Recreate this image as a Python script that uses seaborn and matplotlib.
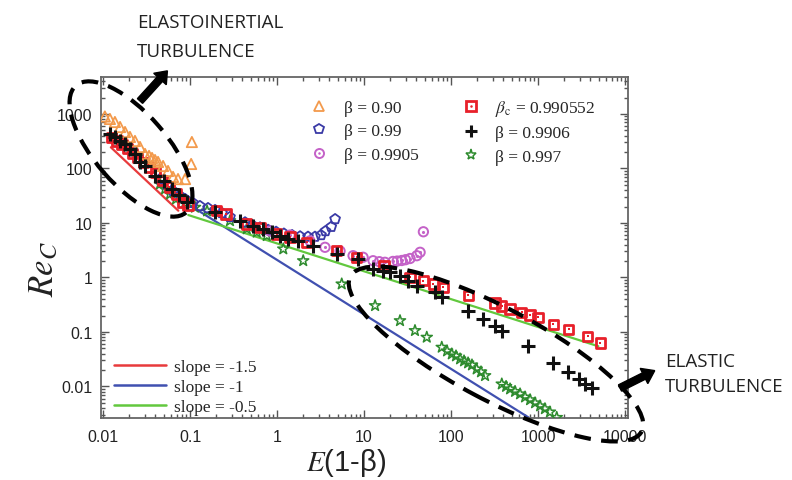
import matplotlib
matplotlib.use("Agg")
import matplotlib.pyplot as plt
import matplotlib.transforms as mtransforms
from matplotlib.patches import Ellipse, FancyArrow
from matplotlib.lines import Line2D
from matplotlib.ticker import LogLocator, FixedLocator, FuncFormatter, NullFormatter
import seaborn as sns
import pandas as pd

# ---------------- data ----------------
b090_x = [0.0105, 0.0120, 0.0137, 0.0157, 0.0179, 0.0204, 0.0233, 0.0266, 0.0304, 0.0338, 0.0366,
          0.0396, 0.0429, 0.049, 0.0559, 0.0638, 0.0728, 0.0877, 0.105, 0.103]
b090_y = [900, 810, 713, 577, 467, 379, 320, 248, 185, 170, 156, 143, 132, 111, 90, 70, 64, 64, 306, 121]

b099_x = [0.0452, 0.0544, 0.0638, 0.0768, 0.0877, 0.108, 0.130, 0.161, 0.194, 0.233, 0.288, 0.429,
          0.516, 0.638, 0.789, 0.975, 1.20, 1.49, 1.84, 2.27, 2.73, 3.2, 3.6, 4.2, 4.65]
b099_y = [64, 50, 38.6, 31.3, 27.5, 23.3, 20.5, 18.8, 17.3, 15.2, 12.9, 10.3, 9.2, 8.3, 7.5, 6.9,
          6.4, 6.0, 5.7, 5.6, 5.6, 6.0, 7.1, 8.5, 11.8]

b09905_x = [0.83, 1.41, 2.39, 3.56, 5.3, 7.48, 9.75, 12.7, 15, 17.4, 21.5, 24, 27.1, 30, 33.8,
            40.4, 44.1, 48.1]
b09905_y = [7.1, 6.0, 4.7, 3.58, 3.06, 2.51, 2.35, 2.03, 1.95, 1.90, 1.97, 2.0, 2.05, 2.12, 2.23,
            2.51, 2.90, 6.9]

bc_x = [0.0125, 0.0145, 0.0165, 0.019, 0.022, 0.025, 0.029, 0.034, 0.04, 0.048, 0.058, 0.07, 0.083,
        0.095, 0.203, 0.26, 0.449, 0.638, 0.99, 1.41, 2.19, 4.85, 8.24, 17, 33.8, 48.1, 62.7, 81.7,
        158, 320, 383, 477, 650, 810, 1000, 1500, 2250, 3710, 5200]
bc_y = [370, 320, 275, 230, 190, 160, 130, 105, 85, 60, 46, 34, 24, 21.4, 16.8, 14.6, 9.6, 8.3,
        6.3, 5.5, 4.43, 3.11, 2.35, 1.66, 1.01, 0.874, 0.760, 0.661, 0.468, 0.340, 0.300, 0.264,
        0.230, 0.205, 0.185, 0.138, 0.112, 0.0834, 0.0628]

b09906_x = [0.0120, 0.0137, 0.0157, 0.0179, 0.0204, 0.0233, 0.0266, 0.0304, 0.0396, 0.05, 0.062,
            0.075, 0.0916, 0.194, 0.376, 0.535, 0.697, 0.869, 1.08, 1.35, 1.76, 2.61, 4.9, 8.6,
            12.8, 16.7, 19.9, 25.9, 32.3, 40.4, 65.5, 78.2, 157, 235, 320, 383, 774, 1500, 2230,
            2960, 3470, 4140]
b09906_y = [430, 373, 324, 282, 228, 185, 130, 112, 74, 58, 42, 32, 24, 15.7, 11, 8.9, 7.8, 6.7,
            5.85, 5.1, 4.7, 3.83, 2.7, 2.18, 1.43, 1.33, 1.24, 1.08, 0.874, 0.708, 0.535, 0.433,
            0.246, 0.173, 0.131, 0.106, 0.0547, 0.027, 0.0182, 0.0137, 0.0111, 0.0094]

b0997_x = [0.0452, 0.0516, 0.0589, 0.069, 0.0877, 0.114, 0.157, 0.288, 0.449, 0.585, 0.762, 1.18,
           2.0, 5.54, 13.4, 25.9, 38.5, 52.6, 78.2, 90, 102, 114, 127, 141, 157, 174, 197, 221,
           246, 383, 429, 477, 544, 621, 709, 810, 924, 1055, 1200, 1370, 1640]
b0997_y = [52, 42, 34, 27.5, 23.3, 19.4, 16.6, 11, 7.8, 6.75, 5.85, 3.34, 2.03, 0.760, 0.304,
           0.161, 0.106, 0.080, 0.0524, 0.0448, 0.0395, 0.0363, 0.032, 0.0294, 0.027, 0.0248,
           0.0209, 0.0185, 0.0158, 0.0111, 0.0100, 0.0090, 0.0081, 0.0073, 0.0064, 0.0057,
           0.0050, 0.0044, 0.0039, 0.0034, 0.0027]

slope15_x = [0.0123, 0.0734]
slope15_y = [245, 16.8]
slope10_x = [0.1, 1000]
slope10_y = [21, 0.0021]
slope05_x = [0.0955, 4930]
slope05_y = [14, 0.0547]

x_ticks = [0.01, 0.1, 1, 10, 100, 1000, 10000]
x_labels = ["0.01", "0.1", "1", "10", "100", "1000", "10000"]
y_ticks = [0.01, 0.1, 1, 10, 100, 1000]
y_labels = ["0.01", "0.1", "1", "10", "100", "1000"]

series_labels = ["β = 0.90", "β = 0.99", "β = 0.9905", r"$\beta_{\mathrm{c}}$ = 0.990552",
                 "β = 0.9906", "β = 0.997"]
slope_labels = ["slope = -1.5", "slope = -1", "slope = -0.5"]

# ---------------- style ----------------
sns.set_style("ticks")
plt.rcParams["font.family"] = ["Liberation Sans", "DejaVu Sans"]
plt.rcParams["mathtext.fontset"] = "stix"

C_OR = "#f39a4c"
C_BL = "#3a3aa6"
C_MG = "#c462c8"
C_RD = "#e8202a"
C_BK = "#111111"
C_GR = "#2e8b2e"
L_RD = "#e83a3c"
L_BL = "#4050b0"
L_GR = "#62c83e"

fig = plt.figure(figsize=(7.92, 4.81), dpi=100)
ax = fig.add_axes([101 / 792, 62 / 481, 527 / 792, 341 / 481])
ax.set_xscale("log")
ax.set_yscale("log")

# reference lines
for xs, ys, c in [(slope15_x, slope15_y, L_RD), (slope10_x, slope10_y, L_BL), (slope05_x, slope05_y, L_GR)]:
    sns.lineplot(x=xs, y=ys, ax=ax, color=c, lw=1.6, estimator=None, sort=False)

def sc(xs, ys, marker, color, s, lw=1.3, filled=False, z=3):
    df = pd.DataFrame({"x": xs, "y": ys})
    if filled:
        sns.scatterplot(data=df, x="x", y="y", ax=ax, marker=marker, s=s, color=color,
                        linewidth=0, legend=False, zorder=z)
    elif marker in ("+", "x"):
        sns.scatterplot(data=df, x="x", y="y", ax=ax, marker=marker, s=s, color=color,
                        linewidth=lw, legend=False, zorder=z)
    else:
        sns.scatterplot(data=df, x="x", y="y", ax=ax, marker=marker, s=s, facecolor="none",
                        edgecolor=color, linewidth=lw, legend=False, zorder=z)

sc(b0997_x, b0997_y, "*", C_GR, 70, 1.1)
sc(b099_x, b099_y, "p", C_BL, 55, 1.3)
sc(b09905_x, b09905_y, "o", C_MG, 45, 1.4)
sc(b09905_x, b09905_y, "o", C_MG, 5, filled=True)
sc(bc_x, bc_y, "s", C_RD, 45, 2.0)
sc(bc_x, bc_y, "s", C_RD, 4, filled=True)
sc(b090_x, b090_y, "^", C_OR, 55, 1.3)
sc(b09906_x, b09906_y, "+", C_BK, 95, 2.2, z=4)

ax.set_xlim(0.00948, 10810)
ax.set_ylim(0.00264, 4775)

ax.xaxis.set_major_locator(FixedLocator(x_ticks))
ax.xaxis.set_major_formatter(FuncFormatter(lambda v, p: x_labels[x_ticks.index(v)] if v in x_ticks else ""))
ax.yaxis.set_major_locator(FixedLocator(y_ticks))
ax.yaxis.set_major_formatter(FuncFormatter(lambda v, p: y_labels[y_ticks.index(v)] if v in y_ticks else ""))
ax.xaxis.set_minor_locator(LogLocator(base=10, subs=range(2, 10), numticks=20))
ax.yaxis.set_minor_locator(LogLocator(base=10, subs=range(2, 10), numticks=20))
ax.xaxis.set_minor_formatter(NullFormatter())
ax.yaxis.set_minor_formatter(NullFormatter())
ax.tick_params(which="both", direction="in", top=True, right=True, color="#555555", width=1.0,
               labelsize=11.5, labelcolor="#222222")
ax.tick_params(which="major", length=6, pad=6)
ax.tick_params(axis="x", which="major", pad=8)
ax.tick_params(which="minor", length=3)
for sp in ax.spines.values():
    sp.set_color("#666666")
    sp.set_linewidth(1.3)

ax.set_xlabel(r"$E$(1-β)", fontsize=21, color="#222222")
ax.set_ylabel(r"$Re_C$", fontsize=25, color="#222222")
ax.xaxis.set_label_coords(0.465, -0.082)
ax.yaxis.set_label_coords(-0.078, 0.44)

# legends
def h(marker, color, ms, mew, dot=False):
    base = Line2D([], [], ls="", marker=marker, mfc="none", mec=color, ms=ms, mew=mew, color=color)
    if dot:
        d = Line2D([], [], ls="", marker="o", mfc=color, mec=color, ms=1.8, mew=0)
        return (base, d)
    return base

handles = [h("^", C_OR, 7, 1.3), h("p", C_BL, 7, 1.3), h("o", C_MG, 6.5, 1.4, True),
           h("s", C_RD, 6.5, 2.0, True), Line2D([], [], ls="", marker="+", color=C_BK, ms=9, mew=2.2),
           h("*", C_GR, 8, 1.1)]
leg1 = ax.legend(handles, series_labels, ncol=2, loc="upper left",
                 bbox_to_anchor=((302 - 101) / 527, (419 - 92) / 341), frameon=False,
                 prop={"family": "Liberation Serif", "size": 12.5}, handlelength=1.2,
                 handletextpad=0.8, columnspacing=2.4, labelspacing=0.42, borderaxespad=0)
ax.add_artist(leg1)

lh = [Line2D([], [], color=c, lw=1.8) for c in (L_RD, L_BL, L_GR)]
ax.legend(lh, slope_labels, loc="lower left", bbox_to_anchor=(0.012, -0.012), frameon=False,
          prop={"family": "Liberation Serif", "size": 12.5}, handlelength=3.0, handletextpad=0.45,
          labelspacing=0.22, borderaxespad=0)

# annotations (pixel coordinates, y from bottom)
ident = mtransforms.IdentityTransform()
H = 481
e1 = Ellipse((131, H - 150), 168, 72, angle=-49, transform=ident, fill=False, ec="black",
             lw=3, ls=(0, (4, 2.5)), clip_on=False, zorder=10)
e2 = Ellipse((496, H - 355), 330, 92, angle=-28, transform=ident, fill=False, ec="black",
             lw=3, ls=(0, (4, 2.5)), clip_on=False, zorder=10)
fig.add_artist(e1)
fig.add_artist(e2)
a1 = FancyArrow(140, H - 102, 20, 22, width=7, head_width=17, head_length=11,
                length_includes_head=False, transform=ident, color="black", zorder=11)
a2 = FancyArrow(620, H - 389, 24, 12, width=7, head_width=17, head_length=12,
                length_includes_head=False, transform=ident, color="black", zorder=11)
fig.add_artist(a1)
fig.add_artist(a2)

tkw = dict(fontsize=13.5, family=["Open Sans", "DejaVu Sans"], color="#222222", va="baseline", ha="left")
fig.text(137 / 792, 1 - 28 / H, "ELASTOINERTIAL", **tkw)
fig.text(137 / 792, 1 - 57 / H, "TURBULENCE", **tkw)
fig.text(665 / 792, 1 - 367 / H, "ELASTIC", **tkw)
fig.text(665 / 792, 1 - 392 / H, "TURBULENCE", **tkw)

fig.savefig("out.png", dpi=100, facecolor="white")
